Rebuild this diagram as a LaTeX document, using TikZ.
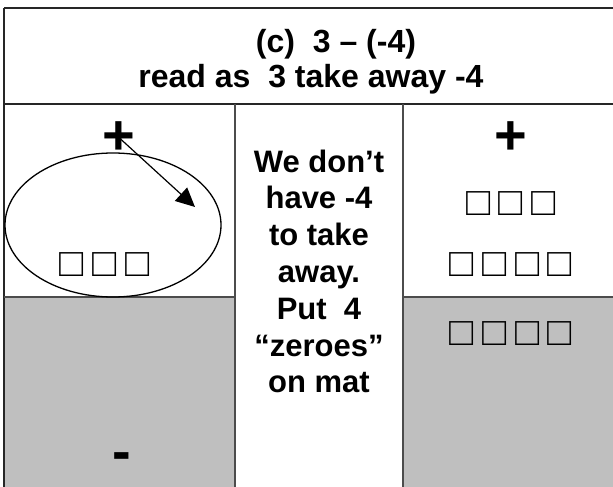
\documentclass[tikz,border=0pt]{standalone}
\usepackage{fontspec}
\setmainfont{Liberation Sans}
\usetikzlibrary{arrows.meta,shapes.geometric}
\begin{document}
\begin{tikzpicture}[x=1pt,y=-1pt,
  frame/.style={line width=1.6pt,draw=black!85},
  divider/.style={line width=1.6pt,draw=black!70},
  mat/.style={fill=black!25},
  head/.style={inner sep=0pt,anchor=base,font=\bfseries\fontsize{32}{36.8}\selectfont},
  sign/.style={inner sep=0pt,anchor=base,font=\bfseries\fontsize{56}{56}\selectfont},
  tiles/.style={inner sep=0pt,font=\fontsize{40}{40}\selectfont}]
\useasboundingbox (0,0) rectangle (613,487);
% mats
\fill[mat] (4,297) rectangle (235,490);
\fill[mat] (403,297) rectangle (616,490);
% frame lines
\draw[frame] (4,8) -- (616,8);
\draw[frame] (4,8) -- (4,490);
\draw[frame] (4,104) -- (616,104);
\draw[divider] (235,104) -- (235,490);
\draw[divider] (403,104) -- (403,490);
\draw[divider] (4,297) -- (235,297);
\draw[divider] (403,297) -- (616,297);
% header
\node[head] (h1) at (336,53) {(c)\ \ 3 – (-4)};
\node[head] (h2) at (311,87) {read as\ \ 3 take away -4};
% left column
\node[draw,ellipse,line width=1.3pt,minimum width=216,minimum height=144,inner sep=0pt] (ell) at (113,225) {};
\node[sign] (lplus) at (119,154) {+};
\node[tiles] (ltiles) at (104.5,265) {□\hspace{8.5pt}□\hspace{8.5pt}□};
\node[sign] (lminus) at (121.5,470) {-};
\coordinate (tip) at (195,207);
\draw[line width=1.2pt,-{Triangle[length=19pt,width=18pt]}] (lplus.center) -- (tip);
% middle
\node[inner sep=0pt,anchor=north,font=\bfseries\fontsize{31}{36.8}\selectfont,align=center] (mid) at (319,149.5)
 {We don’t\\have -4\\to take\\away.\\Put\ \ 4\\“zeroes”\\on mat};
% right column
\node[sign] (rplus) at (510.5,154) {+};
\node[tiles] (rt1) at (511,203.5) {□\hspace{8.5pt}□\hspace{8.5pt}□};
\node[tiles] (rt2) at (511,265) {□\hspace{8.5pt}□\hspace{8.5pt}□\hspace{8.5pt}□};
\node[tiles] (rt3) at (511,334) {□\hspace{8.5pt}□\hspace{8.5pt}□\hspace{8.5pt}□};
\end{tikzpicture}
\end{document}
